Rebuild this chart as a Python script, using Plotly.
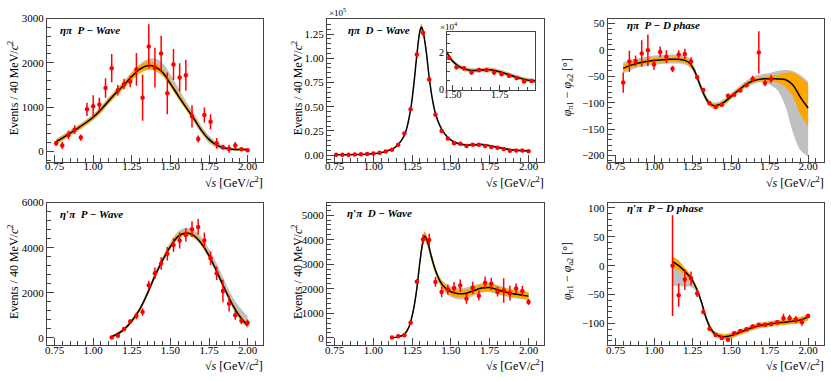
import plotly.graph_objects as go

FONT = "Liberation Serif"
RED = "#ff0000"
ORANGE = "#ffa500"
GREY = "#c0c0c0"
W, H = 831, 381

# ---------------- data points ----------------
x_etapi = [0.76, 0.80, 0.84, 0.88, 0.92, 0.96, 1.00, 1.04, 1.08, 1.12, 1.16, 1.20, 1.24, 1.28, 1.32, 1.36,
           1.40, 1.44, 1.48, 1.52, 1.56, 1.60, 1.64, 1.68, 1.72, 1.76, 1.80, 1.84, 1.88, 1.92, 1.96, 2.00]
p_etapi = [180, 130, 370, 490, 310, 950, 1020, 1060, 1430, 1880, 1380, 1520, 1580, 1850, 1210, 2370,
           1890, 2210, 1310, 1960, 1670, 1720, 790, 280, 820, 670, 180, 90, 60, 130, 45, 25]
p_etapi_err = [60, 80, 100, 100, 70, 150, 250, 150, 220, 320, 120, 120, 130, 370, 520, 500,
               450, 400, 470, 350, 320, 350, 250, 80, 170, 170, 120, 50, 90, 80, 20, 20]
d_etapi = [300, 400, 500, 700, 900, 1200, 1700, 2500, 3800, 5700, 10700, 22300, 47300, 104000, 126300, 78000,
           41700, 25000, 17300, 12300, 11700, 9400, 10800, 10800, 9400, 8500, 7600, 6400, 4600, 4900, 4700, 4000]
d_etapi_err = [100, 100, 150, 150, 200, 200, 250, 300, 400, 500, 700, 1000, 1500, 2500, 3000, 2000,
               1500, 1200, 1200, 1200, 1200, 1000, 1200, 1200, 1200, 1000, 1000, 1000, 1000, 1000, 800, 800]

x_phase_etapi = [0.80, 0.84, 0.88, 0.92, 0.96, 1.00, 1.04, 1.08, 1.12, 1.16, 1.20, 1.24, 1.28,
                 1.32, 1.36, 1.40, 1.44, 1.48, 1.52, 1.56, 1.60, 1.64, 1.68, 1.72, 1.76]
ph_etapi = [-62, -22, -21, -7, -1, -28, -4, -13, -36, -9, -8, -22, -52,
            -76, -101, -108, -104, -87, -85, -77, -67, -55, -5, -63, -55]
ph_etapi_err = [19, 20, 10, 25, 30, 10, 10, 12, 6, 8, 10, 8, 5,
                4, 3, 3, 3, 4, 3, 3, 4, 6, 40, 6, 8]

x_etappi = [1.12, 1.16, 1.20, 1.24, 1.28, 1.32, 1.36, 1.40, 1.44, 1.48, 1.52, 1.56,
            1.60, 1.64, 1.68, 1.72, 1.76, 1.80, 1.84, 1.88, 1.92, 1.96, 2.00]
p_etappi = [15, 100, 400, 730, 980, 1150, 2340, 2870, 3300, 3730, 4120, 4320,
            4560, 4820, 4920, 4320, 3530, 2870, 2080, 1520, 1000, 760, 670]
p_etappi_err = [10, 40, 80, 100, 150, 170, 200, 250, 280, 300, 300, 350,
                300, 350, 350, 350, 300, 300, 500, 350, 200, 150, 150]
d_etappi = [13, 66, 105, 620, 2290, 4010, 3990, 2280, 1870, 1970, 2030, 2130,
            1590, 2040, 1720, 2250, 2200, 1880, 1930, 1820, 2010, 1910, 1460]
d_etappi_err = [10, 20, 30, 60, 100, 200, 250, 200, 220, 200, 250, 250,
                200, 250, 200, 250, 250, 200, 500, 300, 200, 200, 120]
ph_etappi = [0, -51, -24, -22, -48, -80, -109, -120, -125, -128, -117, -113,
             -110, -105, -102, -102, -101, -98, -91, -91, -93, -98, -87]
ph_etappi_err = [87, 20, 18, 12, 6, 4, 3, 3, 3, 3, 3, 3,
                 3, 3, 3, 3, 3, 4, 8, 6, 6, 6, 4]

# ---------------- fit curves and bands ----------------
xc1 = [0.76, 0.80, 0.85, 0.90, 0.95, 1.00, 1.05, 1.10, 1.15, 1.20, 1.25, 1.30, 1.35,
       1.40, 1.45, 1.50, 1.55, 1.60, 1.65, 1.70, 1.75, 1.80, 1.85, 1.90, 1.95, 2.00]
c1 = [215, 300, 410, 520, 640, 770, 940, 1140, 1330, 1500, 1690, 1850, 1935,
      1910, 1780, 1530, 1260, 1000, 750, 480, 270, 140, 75, 45, 40, 40]
o1_lo = [170, 250, 360, 470, 590, 720, 880, 1080, 1270, 1430, 1610, 1760, 1840,
         1820, 1700, 1460, 1190, 940, 690, 430, 230, 110, 50, 25, 20, 20]
o1_hi = [260, 350, 460, 570, 690, 820, 1000, 1200, 1390, 1570, 1770, 1940, 2030,
         2000, 1860, 1600, 1330, 1060, 810, 530, 310, 170, 100, 65, 60, 60]
g1_lo = [150, 230, 340, 450, 570, 700, 860, 1060, 1250, 1420, 1600, 1760, 1850,
         1840, 1720, 1480, 1210, 950, 680, 400, 190, 80, 30, 10, 10, 10]
g1_hi = [280, 370, 480, 590, 710, 840, 1020, 1220, 1410, 1590, 1790, 1960, 2080,
         2100, 1990, 1740, 1440, 1140, 870, 580, 360, 210, 120, 80, 70, 70]

xc2 = [0.76, 0.80, 0.85, 0.90, 0.95, 1.00, 1.05, 1.10, 1.14, 1.18, 1.21, 1.24, 1.26, 1.28, 1.30, 1.31, 1.32,
       1.34, 1.36, 1.38, 1.40, 1.43, 1.46, 1.50, 1.55, 1.60, 1.65, 1.70, 1.75, 1.80, 1.85, 1.90, 1.95, 2.00]
c2 = [300, 400, 500, 700, 1000, 1500, 2400, 5000, 8000, 15000, 25000, 47000, 72000, 103000, 128000, 132000, 128000,
      108000, 80000, 58000, 43000, 30000, 22000, 15500, 11800, 10500, 10700, 10900, 9800, 8200, 6600, 5300, 4800, 4500]
o2_lo = [200, 300, 400, 600, 900, 1350, 2200, 4700, 7600, 14400, 24200, 45800, 70400, 100800, 125200, 129200, 125200,
         105600, 78200, 56600, 41900, 29100, 21200, 14800, 11100, 9800, 10000, 10200, 9100, 7500, 5900, 4600, 4100, 3800]
o2_hi = [400, 500, 600, 800, 1100, 1650, 2600, 5300, 8400, 15600, 25800, 48200, 73600, 105200, 130800, 134800, 130800,
         110400, 81800, 59400, 44100, 30900, 22800, 16200, 12500, 11200, 11400, 11600, 10500, 8900, 7300, 6000, 5500, 5200]
g2_lo = [100, 200, 300, 500, 800, 1200, 2000, 4500, 7300, 14000, 23800, 45200, 69600, 99800, 124000, 128000, 124200,
         104800, 77400, 55800, 41200, 28500, 20600, 14300, 10600, 9300, 9500, 9700, 8600, 7000, 5400, 4200, 3700, 3400]
g2_hi = [500, 600, 700, 900, 1200, 1800, 2800, 5500, 8700, 16000, 26200, 48800, 74400, 106200, 132000, 136000, 131800,
         111200, 82600, 60200, 44800, 31500, 23400, 16700, 13000, 11700, 11900, 12100, 11000, 9400, 7800, 6400, 5900, 5600]

xc3 = [0.80, 0.85, 0.90, 0.95, 1.00, 1.05, 1.10, 1.15, 1.20, 1.23, 1.26, 1.29, 1.32, 1.35,
       1.38, 1.41, 1.45, 1.50, 1.55, 1.60, 1.65, 1.70, 1.75, 1.80, 1.85, 1.90, 1.95, 2.00]
c3 = [-35, -29, -25, -22, -20, -19, -18, -18, -20, -25, -38, -60, -82, -98,
      -105, -105, -100, -88, -76, -65, -58, -55, -55, -55, -56, -66, -90, -110]
o3_lo = [-41, -34, -30, -27, -25, -24, -23, -23, -25, -30, -42, -64, -86, -102,
         -109, -109, -104, -92, -80, -69, -62, -59, -60, -62, -70, -88, -122, -145]
o3_hi = [-28, -23, -20, -17, -15, -14, -13, -13, -15, -20, -34, -56, -78, -94,
         -101, -101, -96, -84, -72, -61, -54, -51, -49, -47, -44, -43, -52, -65]
g3_lo = [-45, -38, -33, -30, -28, -27, -26, -26, -28, -33, -44, -66, -88, -104,
         -111, -111, -106, -94, -82, -71, -64, -62, -66, -76, -105, -155, -190, -202]
g3_hi = [-24, -19, -16, -13, -11, -10, -9, -9, -11, -16, -31, -53, -75, -91,
         -99, -99, -94, -82, -70, -58, -50, -46, -44, -40, -38, -40, -48, -60]

xc4 = [1.12, 1.15, 1.20, 1.25, 1.30, 1.35, 1.40, 1.45, 1.50, 1.55, 1.60, 1.65, 1.70, 1.75, 1.80, 1.85, 1.90, 1.95, 2.00]
c4 = [60, 150, 380, 750, 1250, 1950, 2750, 3450, 4050, 4500, 4650, 4550, 4200, 3650, 2950, 2200, 1500, 950, 550]
o4_lo = [20, 100, 320, 680, 1170, 1860, 2650, 3350, 3950, 4400, 4550, 4450, 4100, 3550, 2850, 2100, 1400, 850, 450]
o4_hi = [100, 200, 440, 820, 1330, 2040, 2850, 3550, 4150, 4600, 4750, 4650, 4300, 3750, 3050, 2300, 1600, 1050, 650]
g4_lo = [10, 80, 300, 650, 1140, 1830, 2620, 3330, 3930, 4380, 4530, 4430, 4080, 3520, 2800, 2050, 1350, 800, 400]
g4_hi = [120, 220, 460, 850, 1360, 2080, 2900, 3620, 4250, 4720, 4880, 4800, 4480, 3950, 3300, 2550, 1850, 1350, 980]

xc5 = [1.12, 1.16, 1.20, 1.23, 1.26, 1.28, 1.30, 1.32, 1.33, 1.35, 1.37, 1.40, 1.43,
       1.46, 1.50, 1.55, 1.60, 1.65, 1.70, 1.75, 1.80, 1.85, 1.90, 1.95, 2.00]
c5 = [0, 40, 150, 450, 1200, 2000, 3100, 3950, 4150, 3900, 3400, 2750, 2300,
      2050, 1880, 1800, 1820, 1930, 2030, 2050, 1960, 1870, 1800, 1750, 1700]
o5_lo = [-10, 20, 110, 390, 1100, 1880, 2950, 3780, 3980, 3740, 3260, 2620, 2170,
         1920, 1740, 1650, 1670, 1780, 1880, 1900, 1810, 1720, 1650, 1600, 1540]
o5_hi = [10, 60, 190, 510, 1300, 2120, 3250, 4120, 4320, 4060, 3540, 2880, 2430,
         2180, 2020, 1950, 1970, 2080, 2180, 2200, 2110, 2020, 1950, 1900, 1860]
g5_lo = [-20, 10, 100, 370, 1080, 1860, 2930, 3760, 3960, 3720, 3240, 2600, 2130,
         1860, 1660, 1560, 1590, 1720, 1840, 1860, 1770, 1690, 1630, 1580, 1530]
g5_hi = [20, 70, 200, 530, 1320, 2140, 3270, 4140, 4340, 4080, 3560, 2900, 2470,
         2240, 2100, 2040, 2050, 2140, 2220, 2240, 2150, 2050, 1970, 1920, 1870]

xc6 = [1.12, 1.16, 1.20, 1.24, 1.28, 1.31, 1.34, 1.37, 1.40, 1.45, 1.50, 1.55, 1.60, 1.65, 1.70, 1.75, 1.80, 1.85, 1.90, 1.95, 2.00]
c6 = [7, 0, -10, -22, -42, -65, -92, -110, -119, -123, -121, -116, -111, -106, -103, -101, -99, -98, -96, -94, -89]
o6_lo = [-3, -8, -16, -27, -46, -69, -96, -114, -123, -127, -125, -120, -115, -110, -107, -105, -103, -102, -101, -99, -95]
o6_hi = [16, 9, -4, -17, -38, -61, -88, -106, -115, -119, -117, -112, -107, -102, -99, -97, -95, -94, -91, -89, -83]
g6_lo = [-35, -35, -36, -37, -48, -70, -97, -115, -124, -128, -126, -121, -116, -111, -108, -106, -104, -103, -101, -99, -94]
g6_hi = [5, -2, -8, -18, -38, -60, -87, -105, -114, -118, -116, -111, -106, -101, -98, -96, -94, -93, -91, -89, -84]

labels = ["ηπ  P − Wave", "ηπ  D − Wave", "ηπ  P − D phase",
          "η′π  P − Wave", "η′π  D − Wave", "η′π  P − D phase"]

panels = [
    (x_etapi, p_etapi, p_etapi_err, xc1, c1, o1_lo, o1_hi, g1_lo, g1_hi),
    (x_etapi, d_etapi, d_etapi_err, xc2, c2, o2_lo, o2_hi, g2_lo, g2_hi),
    (x_phase_etapi, ph_etapi, ph_etapi_err, xc3, c3, o3_lo, o3_hi, g3_lo, g3_hi),
    (x_etappi, p_etappi, p_etappi_err, xc4, c4, o4_lo, o4_hi, g4_lo, g4_hi),
    (x_etappi, d_etappi, d_etappi_err, xc5, c5, o5_lo, o5_hi, g5_lo, g5_hi),
    (x_etappi, ph_etappi, ph_etappi_err, xc6, c6, o6_lo, o6_hi, g6_lo, g6_hi),
]

# pixel boxes of the frames (left, right, top, bottom)
cols = [(44, 261), (325, 543), (607, 823.5)]
rows = [(13, 161), (203, 350.5)]
yranges = [(-240, 3000), (-7000, 141000), (-212, 59), (-335, 6000), (-310, 5510), (-138, 109)]
ydticks = [(1000, 200), (25000, 5000), (50, 10), (2000, 400), (1000, 200), (50, 10)]

fig = go.Figure()


def add_panel(fig, data, xa, ya):
    px_, py_, pe, xc, c, olo, ohi, glo, ghi = data
    kw = dict(xaxis=xa, yaxis=ya, showlegend=False, hoverinfo="skip")
    fig.add_trace(go.Scatter(x=xc, y=glo, mode="lines", line=dict(width=0, shape="spline"), **kw))
    fig.add_trace(go.Scatter(x=xc, y=ghi, mode="lines", line=dict(width=0, shape="spline"),
                             fill="tonexty", fillcolor=GREY, **kw))
    fig.add_trace(go.Scatter(x=xc, y=olo, mode="lines", line=dict(width=0, shape="spline"), **kw))
    fig.add_trace(go.Scatter(x=xc, y=ohi, mode="lines", line=dict(width=0, shape="spline"),
                             fill="tonexty", fillcolor=ORANGE, **kw))
    fig.add_trace(go.Scatter(x=xc, y=c, mode="lines", line=dict(color="black", width=1.5, shape="spline"), **kw))
    fig.add_trace(go.Scatter(x=px_, y=py_, mode="markers",
                             marker=dict(color=RED, size=4.5),
                             error_y=dict(type="data", array=pe, color=RED, thickness=1.5, width=0),
                             **kw))


def base_axis(domain, anchor, rng):
    return dict(domain=domain, anchor=anchor, range=rng, showgrid=False, zeroline=False,
                showline=True, mirror=True, linecolor="#444", linewidth=1,
                ticks="inside", ticklen=7, tickcolor="#444", tickwidth=1,
                tickfont=dict(family=FONT, size=11, color="black"))


layout = {}
annotations = []
for k, data in enumerate(panels):
    r, cc = divmod(k, 3)
    n = k + 1
    xa = "x" if n == 1 else "x%d" % n
    ya = "y" if n == 1 else "y%d" % n
    add_panel(fig, data, xa, ya)
    l, rr = cols[cc]
    t, b = rows[r]
    xd = [l / W, rr / W]
    yd = [1 - b / H, 1 - t / H]
    xax = base_axis(xd, ya, [0.7, 2.1])
    xax.update(tick0=0.75, dtick=0.25, tickformat=".2f", ticklabelstandoff=-6,
               minor=dict(ticks="inside", ticklen=4, dtick=0.05, tick0=0.7, tickcolor="#444"))
    yax = base_axis(yd, xa, list(yranges[k]))
    dt, mdt = ydticks[k]
    yax.update(tick0=0, dtick=dt, minor=dict(ticks="inside", ticklen=4, dtick=mdt, tick0=0, tickcolor="#444"))
    if k == 1:
        tv = [0, 25000, 50000, 75000, 100000, 125000]
        yax.update(tickmode="array", tickvals=tv, ticktext=["0.00", "0.25", "0.50", "0.75", "1.00", "1.25"])
    layout["xaxis" if n == 1 else "xaxis%d" % n] = xax
    layout["yaxis" if n == 1 else "yaxis%d" % n] = yax

    # panel label
    lab_pos = [(55, 25), (344, 25), (624, 19.5), (55, 215), (343, 214), (624, 209)][k]
    annotations.append(dict(x=lab_pos[0] / W, y=1 - lab_pos[1] / H, xref="paper", yref="paper",
                            text="<b><i>%s</i></b>" % labels[k], showarrow=False,
                            xanchor="left", yanchor="middle",
                            font=dict(family=FONT, size=11, color="black")))
    # x title
    annotations.append(dict(x=(rr + 2) / W, y=1 - (b + 21) / H, xref="paper", yref="paper",
                            text="√<i>s</i> [GeV/<i>c</i><sup>2</sup>]", showarrow=False,
                            xanchor="right", yanchor="middle",
                            font=dict(family=FONT, size=12, color="black")))
    # y title
    ytx = [10, 295, 567][cc]
    if cc == 2:
        ytext = "<i>φ</i><sub>π1</sub> − <i>φ</i><sub>a2</sub> [°]"
    else:
        ytext = "Events / 40 MeV/<i>c</i><sup>2</sup>"
    annotations.append(dict(x=ytx / W, y=1 - ((t + b) / 2 - 3) / H, xref="paper", yref="paper",
                            text=ytext, textangle=-90, showarrow=False,
                            xanchor="center", yanchor="middle",
                            font=dict(family=FONT, size=12, color="black")))

# inset of eta pi D-wave
fig.add_trace(go.Scatter(x=xc2, y=g2_lo, mode="lines", line=dict(width=0, shape="spline"),
                         xaxis="x7", yaxis="y7", showlegend=False, hoverinfo="skip"))
fig.add_trace(go.Scatter(x=xc2, y=g2_hi, mode="lines", line=dict(width=0, shape="spline"), fill="tonexty",
                         fillcolor=GREY, xaxis="x7", yaxis="y7", showlegend=False, hoverinfo="skip"))
fig.add_trace(go.Scatter(x=xc2, y=o2_lo, mode="lines", line=dict(width=0, shape="spline"),
                         xaxis="x7", yaxis="y7", showlegend=False, hoverinfo="skip"))
fig.add_trace(go.Scatter(x=xc2, y=o2_hi, mode="lines", line=dict(width=0, shape="spline"), fill="tonexty",
                         fillcolor=ORANGE, xaxis="x7", yaxis="y7", showlegend=False, hoverinfo="skip"))
fig.add_trace(go.Scatter(x=xc2, y=c2, mode="lines", line=dict(color="black", width=1.5, shape="spline"),
                         xaxis="x7", yaxis="y7", showlegend=False, hoverinfo="skip"))
fig.add_trace(go.Scatter(x=x_etapi, y=d_etapi, mode="markers", marker=dict(color=RED, size=4.5),
                         error_y=dict(type="data", array=d_etapi_err, color=RED, thickness=1.5, width=0),
                         xaxis="x7", yaxis="y7", showlegend=False, hoverinfo="skip"))
ix = base_axis([445.7 / W, 534.3 / W], "y7", [1.47, 1.94])
ix.update(tickmode="array", tickvals=[1.5, 1.75], ticktext=["1.50", "1.75"], ticklen=5,
          ticklabelstandoff=-5,
          tickfont=dict(family=FONT, size=10, color="black"),
          minor=dict(ticks="inside", ticklen=3, dtick=0.05, tick0=1.45, tickcolor="#444"))
iy = base_axis([1 - 86.7 / H, 1 - 27.3 / H], "x7", [0, 31000])
iy.update(tickmode="array", tickvals=[0, 20000], ticktext=["0", "2"], ticklen=5,
          tickfont=dict(family=FONT, size=10, color="black"),
          minor=dict(ticks="inside", ticklen=3, dtick=5000, tick0=0, tickcolor="#444"))
layout["xaxis7"] = ix
layout["yaxis7"] = iy

annotations.append(dict(x=325 / W, y=1 - 6 / H, xref="paper", yref="paper", text="×10<sup>5</sup>",
                        showarrow=False, xanchor="left", yanchor="middle",
                        font=dict(family=FONT, size=9, color="black")))
annotations.append(dict(x=437 / W, y=1 - 21 / H, xref="paper", yref="paper", text="×10<sup>4</sup>",
                        showarrow=False, xanchor="left", yanchor="middle",
                        font=dict(family=FONT, size=9, color="black")))

fig.update_layout(width=W, height=H, margin=dict(l=0, r=0, t=0, b=0),
                  plot_bgcolor="white", paper_bgcolor="white",
                  showlegend=False, annotations=annotations, **layout)
# remove the browser's default page margin so the figure sits at the top-left corner
fig.write_html("out.html", config={"displayModeBar": False},
               post_script="document.body.style.margin='0';")
